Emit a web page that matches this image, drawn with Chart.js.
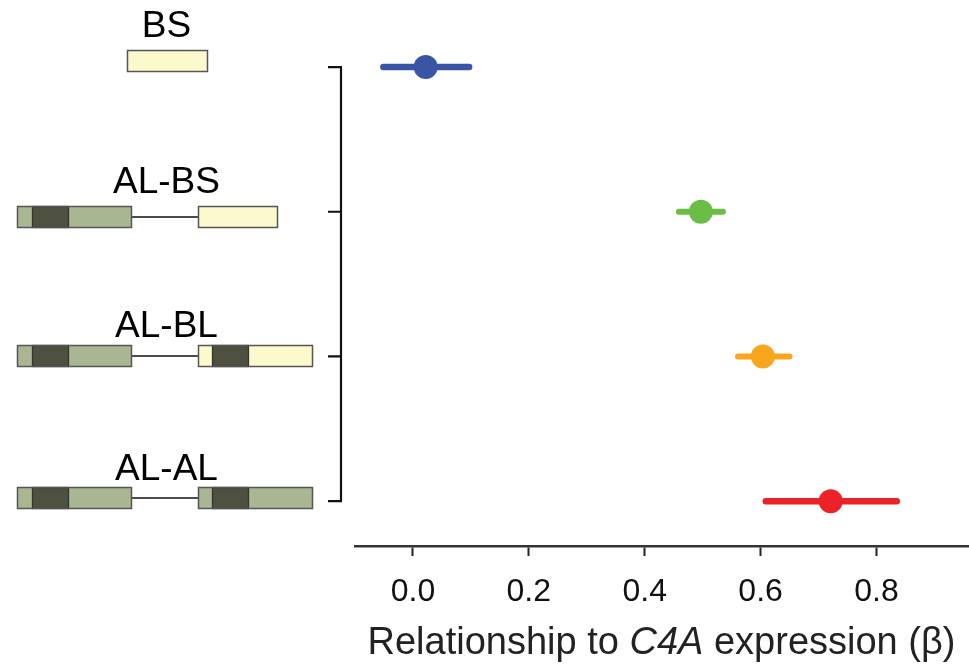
<!DOCTYPE html>
<html>
<head>
<meta charset="utf-8">
<script src="https://cdn.jsdelivr.net/npm/chart.js@4.4.1/dist/chart.umd.min.js"></script>
<style>
  html, body { margin: 0; padding: 0; background: #fff; }
  #wrap { position: relative; width: 969px; height: 666px; overflow: hidden; }
  canvas { position: absolute; left: 0; top: 0; }
  .lab { position: absolute; font-family: "Liberation Sans", Arial, Helvetica, sans-serif; color: #000; white-space: nowrap; }
  .row { left: 0; width: 333px; text-align: center; font-size: 37px; line-height: 37px; }
  #xtitle { left: 355px; width: 613px; text-align: center; font-size: 38px; line-height: 38px; top: 622px; color: #222; }
</style>
</head>
<body>
<div id="wrap">
  <canvas id="forest" width="969" height="666"></canvas>
  <div class="lab row" style="top:6px">BS</div>
  <div class="lab row" style="top:162px">AL-BS</div>
  <div class="lab row" style="top:306px">AL-BL</div>
  <div class="lab row" style="top:449px">AL-AL</div>
  <div class="lab" id="xtitle">Relationship to <i>C4A</i> expression (β)</div>
</div>
<script>
/* --------------- Data --------------------- */
const categories = ["BS", "AL-BS", "AL-BL", "AL-AL"];
const beta = [0.022, 0.497, 0.604, 0.721];
const ciLow = [-0.051, 0.459, 0.561, 0.609];
const ciHigh = [0.097, 0.535, 0.650, 0.835];
const xTicks = [0.0, 0.2, 0.4, 0.6, 0.8];
const dotColors = ["#3A55A5", "#6ABD45", "#F9A61F", "#EC2227"];

/* --------------- Gene diagrams (illustration, not data) --------------------- */
const YELLOW = "#FCF9CC", GREEN = "#A8B692", DARK = "#4F5140";
const diagrams = [
  { top: 50, boxes: [{ x0: 127, x1: 207, fill: YELLOW }] },
  { top: 206, boxes: [{ x0: 17, x1: 131, fill: GREEN, d0: 32, d1: 68 }, { x0: 198, x1: 277, fill: YELLOW }] },
  { top: 345, boxes: [{ x0: 17, x1: 131, fill: GREEN, d0: 32, d1: 68 }, { x0: 198, x1: 312, fill: YELLOW, d0: 212, d1: 248 }] },
  { top: 487, boxes: [{ x0: 17, x1: 131, fill: GREEN, d0: 32, d1: 68 }, { x0: 198, x1: 312, fill: GREEN, d0: 212, d1: 248 }] },
];
const diagramPlugin = {
  id: "diagrams",
  afterDraw(chart) {
    const ctx = chart.ctx;
    const h = 22;
    ctx.save();
    for (const row of diagrams) {
      const b = row.boxes;
      if (b.length > 1) {
        ctx.strokeStyle = "#111";
        ctx.lineWidth = 1.6;
        ctx.beginPath();
        ctx.moveTo(b[0].x1, row.top + h / 2);
        ctx.lineTo(b[1].x0, row.top + h / 2);
        ctx.stroke();
      }
      for (const box of b) {
        ctx.fillStyle = box.fill;
        ctx.fillRect(box.x0, row.top, box.x1 - box.x0, h);
        if (box.d0 !== undefined) {
          ctx.fillStyle = DARK;
          ctx.fillRect(box.d0, row.top, box.d1 - box.d0, h);
          ctx.strokeStyle = "#333";
          ctx.lineWidth = 1.3;
          ctx.strokeRect(box.d0 + 0.5, row.top + 0.5, box.d1 - box.d0, h - 1);
        }
        ctx.strokeStyle = "#555";
        ctx.lineWidth = 1.5;
        ctx.strokeRect(box.x0 + 0.5, row.top + 0.5, box.x1 - box.x0, h - 1);
      }
    }
    ctx.restore();
  },
};

/* --------------- Offset y axis (R style) --------------------- */
const yAxisPlugin = {
  id: "yAxisLine",
  afterDraw(chart) {
    const ctx = chart.ctx;
    const y = chart.scales.y;
    const xLine = chart.chartArea.left - 14;
    const yTop = y.getPixelForValue(1);
    const yBot = y.getPixelForValue(categories.length);
    ctx.save();
    ctx.strokeStyle = "#111";
    ctx.lineWidth = 2.2;
    ctx.beginPath();
    ctx.moveTo(xLine, yTop);
    ctx.lineTo(xLine, yBot);
    categories.forEach((c, i) => {
      const py = y.getPixelForValue(i + 1);
      ctx.moveTo(xLine + 1, py);
      ctx.lineTo(xLine - 13, py);
    });
    ctx.stroke();
    ctx.restore();
  },
};

/* --------------- Datasets --------------------- */
const ciSets = categories.map((c, i) => ({
  label: c + " CI",
  data: [{ x: ciLow[i], y: i + 1 }, { x: ciHigh[i], y: i + 1 }],
  showLine: true,
  borderColor: dotColors[i],
  borderWidth: i === 1 || i === 2 ? 6 : 6.5,
  borderCapStyle: "round",
  pointRadius: 0,
  order: 2,
}));
const pointSet = {
  label: "beta",
  data: beta.map((b, i) => ({ x: b, y: i + 1 })),
  pointRadius: 12,
  pointBorderWidth: 0,
  pointBackgroundColor: dotColors,
  order: 1,
};

new Chart(document.getElementById("forest"), {
  type: "scatter",
  data: { datasets: [pointSet, ...ciSets] },
  plugins: [diagramPlugin, yAxisPlugin],
  options: {
    responsive: false,
    animation: false,
    layout: { autoPadding: false, padding: { left: 355, right: 1, top: 20, bottom: 0 } },
    plugins: { legend: { display: false }, tooltip: { enabled: false } },
    scales: {
      y: { type: "linear", reverse: true, min: 0.675, max: 4.31, display: false },
      x: {
        type: "linear",
        min: -0.1,
        max: 0.958,
        afterBuildTicks: (s) => { s.ticks = xTicks.map((v) => ({ value: v })); },
        afterFit: (s) => { s.height = 120; s.paddingLeft = 0; s.paddingRight = 0; },
        border: { display: true, color: "#333", width: 2.5 },
        grid: { display: true, drawOnChartArea: false, tickLength: 10, tickColor: "#222", tickWidth: 2 },
        ticks: {
          padding: 17,
          color: "#111",
          font: { family: '"Liberation Sans", Arial, Helvetica, sans-serif', size: 32 },
          callback: (v) => Number(v).toFixed(1),
        },
      },
    },
  },
});
</script>
</body>
</html>
